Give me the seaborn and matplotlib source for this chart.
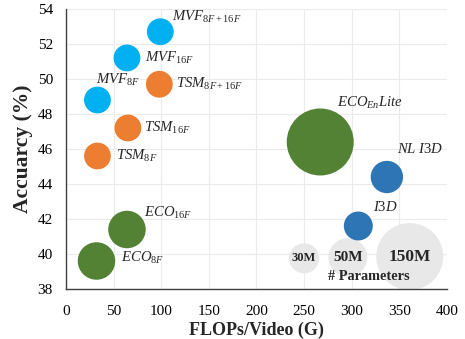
import pandas as pd
import matplotlib
matplotlib.use('Agg')
import matplotlib.pyplot as plt
import seaborn as sns

# model data
models = ['MVF_8F+16F', 'MVF_16F', 'MVF_8F', 'TSM_8F+16F', 'TSM_16F', 'TSM_8F',
          'ECO_16F', 'ECO_8F', 'ECO_EnLite', 'NL I3D', 'I3D']
family = ['MVF', 'MVF', 'MVF', 'TSM', 'TSM', 'TSM', 'ECO', 'ECO', 'ECO', 'I3D', 'I3D']
flops = [99, 64, 33, 98, 65, 33, 64, 32, 267, 337, 307]
accuracy = [52.7, 51.2, 48.8, 49.7, 47.2, 45.6, 41.4, 39.6, 46.4, 44.4, 41.6]
params = [24, 24, 24, 24, 24, 24, 47, 47, 150, 35, 28]
labels = [r'$\mathit{MVF}_{\mathit{8F+16F}}$', r'$\mathit{MVF}_{\mathit{16F}}$',
          r'$\mathit{MVF}_{\mathit{8F}}$', r'$\mathit{TSM}_{\mathit{8F+16F}}$',
          r'$\mathit{TSM}_{\mathit{16F}}$', r'$\mathit{TSM}_{\mathit{8F}}$',
          r'$\mathit{ECO}_{\mathit{16F}}$', r'$\mathit{ECO}_{\mathit{8F}}$',
          r'$\mathit{ECO}_{\mathit{En}}\mathit{Lite}$', r'$\mathit{NL\ I3D}$',
          r'$\mathit{I3D}$']
# label offsets in points from bubble centre
label_dx = [8.6, 13, -0.7, 12.2, 11.5, 13, 12.2, 17.3, 12.2, 7.2, 10.8]
label_dy = [10.8, 0, 14.4, 0, 0, 0, 12.2, 2.2, 28, 20, 13.7]

# size legend bubbles
legend_params = [30, 50, 150]
legend_x = [250, 296, 361]
legend_y = [39.75, 39.8, 39.85]
legend_text = ['30M', '50M', '150M']
legend_fs = [9, 11, 12.5]

palette = {'MVF': '#00B0F0', 'TSM': '#ED7D31', 'ECO': '#548235', 'I3D': '#2E75B6'}

sns.set_style('whitegrid')
plt.rcParams['font.family'] = ['Liberation Serif', 'DejaVu Serif']
plt.rcParams['mathtext.fontset'] = 'custom'
plt.rcParams['mathtext.it'] = 'Liberation Serif:italic'
plt.rcParams['mathtext.rm'] = 'Liberation Serif'

df = pd.DataFrame({'model': models, 'family': family, 'flops': flops,
                   'acc': accuracy, 'params': params})
leg = pd.DataFrame({'flops': legend_x, 'acc': legend_y, 'params': legend_params})

fig = plt.figure(figsize=(4.65, 3.39), dpi=100)
ax = fig.add_axes([0.142, 0.1475, 0.819, 0.826])

smax = (67 * 0.72) ** 2
sns.scatterplot(data=leg, x='flops', y='acc', size='params', sizes=(0, smax),
                size_norm=(0, 150), color='#E8E8E8', linewidth=0, legend=False,
                ax=ax, zorder=2)
sns.scatterplot(data=df, x='flops', y='acc', hue='family', palette=palette,
                size='params', sizes=(0, smax), size_norm=(0, 150),
                linewidth=0, alpha=1, legend=False, ax=ax, zorder=3)

for i, lab in enumerate(labels):
    ax.annotate(lab, (flops[i], accuracy[i]), xytext=(label_dx[i], label_dy[i]),
                textcoords='offset points', ha='left', va='center', fontsize=10.6,
                zorder=4)

for i, t in enumerate(legend_text):
    ax.text(legend_x[i], legend_y[i], t, ha='center', va='center',
            fontsize=legend_fs[i], fontweight='bold', zorder=4)
ax.text(318, 38.7, '# Parameters', ha='center', va='center', fontsize=10.3,
        fontweight='bold', zorder=4)

ax.set_xlim(0, 400)
ax.set_ylim(38, 54)
ax.set_xticks(range(0, 401, 50))
ax.set_yticks(range(38, 55, 2))
ax.tick_params(axis='both', labelsize=11, length=0, colors='black')
ax.tick_params(axis='x', pad=11.5)
ax.tick_params(axis='y', pad=9.5)
ax.grid(True, color='#EBEBEB', linewidth=0.8)
for s in ['top', 'right']:
    ax.spines[s].set_visible(False)
for s in ['left', 'bottom']:
    ax.spines[s].set_color('#404040')
    ax.spines[s].set_linewidth(1.0)
ax.set_xlabel('FLOPs/Video (G)', fontsize=13, fontweight='bold', labelpad=3)
ax.set_ylabel('Accuarcy (%)', fontsize=15.5, fontweight='bold', labelpad=3)

fig.savefig('out.png', dpi=100)
